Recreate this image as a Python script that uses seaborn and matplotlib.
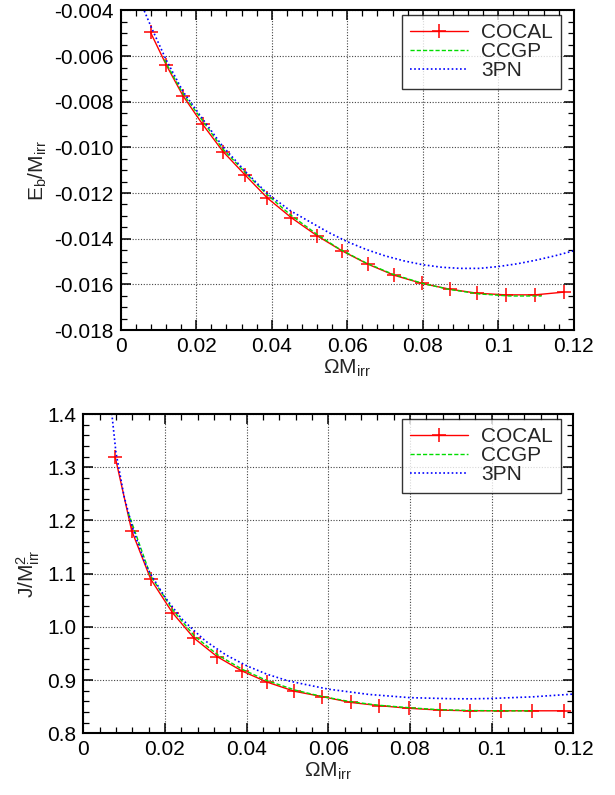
import numpy as np
import pandas as pd
import matplotlib
matplotlib.use("Agg")
import matplotlib.pyplot as plt
from matplotlib.ticker import MultipleLocator, FormatStrFormatter
import seaborn as sns

# --- binding energy panel ---
cocal_omega_e = [0.0079, 0.0121, 0.0165, 0.0217, 0.0271, 0.0329, 0.0388, 0.0452,
                 0.0520, 0.0586, 0.0654, 0.0724, 0.0798, 0.0871, 0.0945, 0.1020,
                 0.1097, 0.1174]
cocal_eb = [-0.00496, -0.00640, -0.00774, -0.00899, -0.01018, -0.01120, -0.01221,
            -0.01308, -0.01387, -0.01453, -0.01511, -0.01560, -0.01596, -0.01621,
            -0.01639, -0.01646, -0.01646, -0.01634]

ccgp_omega_e = [0.0115, 0.0165, 0.0220, 0.0270, 0.0330, 0.0390, 0.0450, 0.0520,
                0.0580, 0.0650, 0.0720, 0.0800, 0.0870, 0.0950, 0.1030, 0.1115]
ccgp_eb = [-0.00615, -0.00765, -0.00890, -0.01006, -0.01110, -0.01210, -0.01296,
           -0.01381, -0.01446, -0.01506, -0.01555, -0.01596, -0.01622, -0.01642,
           -0.01651, -0.01651]

pn3_omega_e = [0.0050, 0.0062, 0.0080, 0.0120, 0.0165, 0.0220, 0.0270, 0.0330,
               0.0390, 0.0450, 0.0500, 0.0550, 0.0600, 0.0650, 0.0700, 0.0750,
               0.0800, 0.0850, 0.0900, 0.0950, 0.1000, 0.1050, 0.1100, 0.1150,
               0.1200]
pn3_eb = [-0.00340, -0.00400, -0.00470, -0.00615, -0.00755, -0.00882, -0.00995,
          -0.01105, -0.01205, -0.01278, -0.01325, -0.01372, -0.01413, -0.01447,
          -0.01475, -0.01497, -0.01514, -0.01525, -0.01530, -0.01530, -0.01522,
          -0.01510, -0.01494, -0.01475, -0.01453]

# --- angular momentum panel ---
cocal_omega_j = [0.0078, 0.01185, 0.0165, 0.0218, 0.0271, 0.0328, 0.0389, 0.0451,
                 0.0517, 0.0585, 0.0655, 0.0725, 0.0798, 0.0874, 0.0947, 0.1023,
                 0.1100, 0.1178]
cocal_j = [1.320, 1.181, 1.090, 1.027, 0.979, 0.944, 0.917, 0.896, 0.879, 0.869,
           0.858, 0.852, 0.847, 0.8436, 0.8423, 0.8423, 0.8423, 0.8423]

ccgp_omega_j = [0.0110, 0.0165, 0.0220, 0.0272, 0.0330, 0.0390, 0.0450, 0.0520,
                0.0580, 0.0650, 0.0720, 0.0800, 0.0870, 0.0950, 0.1030, 0.1100]
ccgp_j = [1.215, 1.096, 1.031, 0.983, 0.947, 0.920, 0.899, 0.881, 0.870, 0.860,
          0.853, 0.848, 0.8445, 0.8428, 0.8422, 0.8422]

pn3_omega_j = [0.0065, 0.0070, 0.0080, 0.0100, 0.0120, 0.0150, 0.0165, 0.0200,
               0.0240, 0.0270, 0.0300, 0.0350, 0.0400, 0.0450, 0.0500, 0.0530,
               0.0600, 0.0700, 0.0800, 0.0900, 0.0950, 0.1000, 0.1100, 0.1200]
pn3_j = [1.440, 1.400, 1.328, 1.245, 1.188, 1.122, 1.099, 1.056, 1.016, 0.994,
         0.973, 0.947, 0.927, 0.911, 0.899, 0.894, 0.883, 0.873, 0.867, 0.865,
         0.8648, 0.8655, 0.8685, 0.8737]

FS = 15

sns.set_style("ticks")
plt.rcParams['font.family'] = ['Liberation Sans', 'DejaVu Sans']
plt.rcParams['font.size'] = FS
plt.rcParams['mathtext.fontset'] = 'custom'
plt.rcParams['mathtext.rm'] = 'Liberation Sans'
plt.rcParams['mathtext.it'] = 'Liberation Sans'


def draw_panel(ax, cocal, ccgp, pn3, leg_anchor):
    sns.lineplot(data=cocal, x="omega", y="val", ax=ax, color="#ff0000", lw=1.0,
                 marker="+", markersize=10, markeredgewidth=1.1, mec="#ff0000",
                 label="COCAL", sort=False)
    sns.lineplot(data=ccgp, x="omega", y="val", ax=ax, color="#00dd00", lw=1.0,
                 dashes=False, linestyle=(0, (3, 1.5)), label="CCGP", sort=False)
    sns.lineplot(data=pn3, x="omega", y="val", ax=ax, color="#0000ff", lw=1.2,
                 dashes=False, linestyle=(0, (1, 1.5)), label="3PN", sort=False)
    ax.set_xlim(0, 0.12)
    ax.xaxis.set_major_locator(MultipleLocator(0.02))
    ax.xaxis.set_minor_locator(MultipleLocator(0.004))
    ax.xaxis.set_major_formatter(plt.FuncFormatter(lambda v, p: f"{v:g}"))
    ax.grid(True, which="major", color="#444444", linestyle=(0, (1, 1.5)), lw=0.8)
    ax.tick_params(which="both", direction="in", top=True, right=True, colors="black",
                   labelsize=FS)
    ax.tick_params(which="major", length=7, width=1.1, pad=5)
    ax.tick_params(which="minor", length=4, width=0.9)
    for s in ax.spines.values():
        s.set_color("black")
        s.set_linewidth(1.5)
    ax.set_xlabel(r"$\Omega$M$_{\rm irr}$", fontsize=FS, labelpad=1)
    leg = ax.legend(loc="upper right", bbox_to_anchor=leg_anchor, fontsize=FS,
                    frameon=True, fancybox=False, handlelength=2.8, borderpad=0.4,
                    labelspacing=0.0, handletextpad=0.6, borderaxespad=0.0)
    leg.get_frame().set_edgecolor("black")
    leg.get_frame().set_linewidth(1.0)


fig = plt.figure(figsize=(6.15, 7.95), dpi=100)
ax1 = fig.add_axes([0.1963, 0.5849, 0.7366, 0.4019])
ax2 = fig.add_axes([0.1354, 0.0776, 0.7967, 0.4016])

draw_panel(ax1,
           pd.DataFrame({"omega": cocal_omega_e, "val": cocal_eb}),
           pd.DataFrame({"omega": ccgp_omega_e, "val": ccgp_eb}),
           pd.DataFrame({"omega": pn3_omega_e, "val": pn3_eb}),
           (0.972, 0.986))
ax1.set_ylim(-0.018, -0.004)
ax1.yaxis.set_major_locator(MultipleLocator(0.002))
ax1.yaxis.set_minor_locator(MultipleLocator(0.0005))
ax1.yaxis.set_major_formatter(FormatStrFormatter("%.3f"))
ax1.set_ylabel(r"E$_{\rm b}$/M$_{\rm irr}$", fontsize=FS, labelpad=4)

draw_panel(ax2,
           pd.DataFrame({"omega": cocal_omega_j, "val": cocal_j}),
           pd.DataFrame({"omega": ccgp_omega_j, "val": ccgp_j}),
           pd.DataFrame({"omega": pn3_omega_j, "val": pn3_j}),
           (0.975, 0.984))
ax2.set_ylim(0.8, 1.4)
ax2.yaxis.set_major_locator(MultipleLocator(0.1))
ax2.yaxis.set_minor_locator(MultipleLocator(0.02))
ax2.yaxis.set_major_formatter(FormatStrFormatter("%.1f"))
ax2.set_ylabel(r"J/M$^{2}_{\rm irr}$", fontsize=FS, labelpad=4)

fig.savefig("out.png", dpi=100)
